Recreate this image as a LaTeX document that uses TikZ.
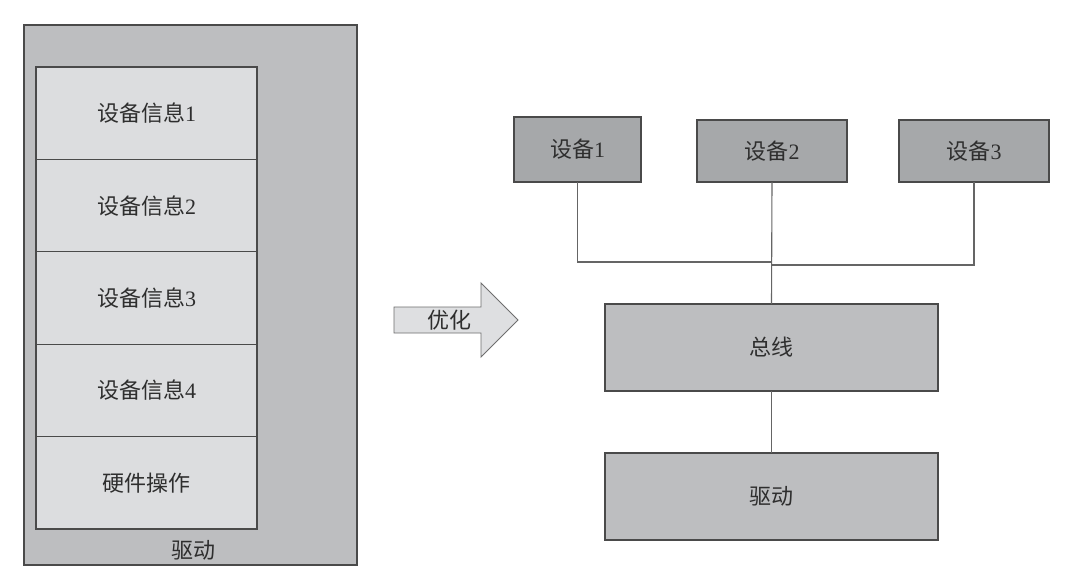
\documentclass[tikz,border=0pt]{standalone}
\usepackage{fontspec}
\setmainfont{Liberation Serif}
\newfontfamily\cjk{Noto Sans CJK SC}
\definecolor{outerfill}{HTML}{BDBEC0}
\definecolor{innerfill}{HTML}{DCDDDF}
\definecolor{devfill}{HTML}{A6A8AA}
\definecolor{busfill}{HTML}{BDBEC0}
\definecolor{edge}{HTML}{4A4A4A}
\definecolor{txt}{HTML}{2E2E2E}
\tikzset{
  lbl/.style={text=txt, font=\fontsize{22}{22}\selectfont},
  box/.style={draw=edge, line width=1.1pt, anchor=north west, inner sep=0pt, outer sep=0pt, lbl},
  rowbox/.style={box, fill=innerfill, minimum width=221pt, minimum height=92.4pt},
  devbox/.style={box, fill=devfill, minimum height=63pt},
  bigbox/.style={box, fill=busfill, minimum width=333pt, minimum height=87pt},
  wire/.style={draw=edge!85, line width=1.1pt},
}
\begin{document}
\begin{tikzpicture}[x=1pt,y=-1pt]
\useasboundingbox (0,0) rectangle (1080,587);
\fill[white] (0,0) rectangle (1080,587);
% left driver box
\node[box, fill=outerfill, minimum width=333pt, minimum height=540pt] (drv) at (24,25) {};
\node[rowbox] (r1) at (36,67) {{\cjk 设备信息}1};
\node[rowbox] (r2) at (36,159.4) {{\cjk 设备信息}2};
\node[rowbox] (r3) at (36,251.8) {{\cjk 设备信息}3};
\node[rowbox] (r4) at (36,344.2) {{\cjk 设备信息}4};
\node[rowbox] (r5) at (36,436.6) {{\cjk 硬件操作}};
\node[lbl] (drvlabel) at (193,550) {\cjk 驱动};
% arrow
\path[draw=edge!80, line width=0.9pt, fill=innerfill!95!white]
  (394,307) -- (481,307) -- (481,283) -- (518,320) -- (481,357) -- (481,333) -- (394,333) -- cycle;
\node[lbl] (opt) at (449,320) {\cjk 优化};
% right side
\node[devbox, minimum width=127pt, minimum height=65pt] (d1) at (514,117) {{\cjk 设备}1};
\node[devbox, minimum width=150pt, minimum height=62pt] (d2) at (697,120) {{\cjk 设备}2};
\node[devbox, minimum width=150pt, minimum height=62pt] (d3) at (899,120) {{\cjk 设备}3};
\node[bigbox] (bus) at (605,304) {\cjk 总线};
\node[bigbox] (drv2) at (605,453) {\cjk 驱动};
\coordinate (j1) at (772,262);
\coordinate (j3) at (772,265);
\draw[wire] (d1.south) |- (j1);
\draw[wire] (d3.south) |- (j3);
\draw[wire] (d2.south) -- (bus.north);
\draw[wire] (bus.south) -- (drv2.north);
\end{tikzpicture}
\end{document}
